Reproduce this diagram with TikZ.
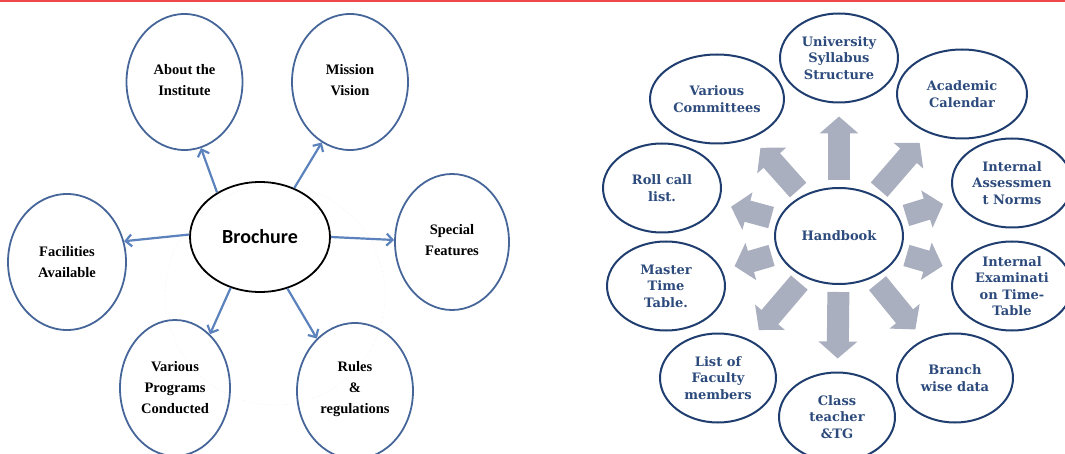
\documentclass[tikz,border=0pt]{standalone}
\usepackage{fontspec}
\setmainfont{Liberation Serif}
\newfontfamily\hbfont{DejaVu Serif}
\newfontfamily\brfont{Carlito}
\usepackage{tikz}
\usetikzlibrary{shapes.geometric, arrows.meta}
\usepackage{xcolor}

\definecolor{topred}{HTML}{F04848}
\definecolor{leftline}{HTML}{46669A}
\definecolor{leftarrow}{HTML}{5B82BC}
\definecolor{navyline}{HTML}{1F3D6E}
\definecolor{navytext}{HTML}{2C4A7C}
\definecolor{blockgray}{HTML}{A9AFBF}

\tikzset{
  bubble/.style={ellipse, draw=leftline, line width=1.8pt, inner sep=0pt,
    minimum width=116pt, minimum height=136pt},
  bubtxt/.style={align=center, font=\fontsize{14.5}{21}\selectfont\bfseries},
  hbub/.style={ellipse, draw=navyline, line width=2pt, inner sep=0pt,
    minimum width=118pt, minimum height=89pt},
  hbtxt/.style={align=center, text=navytext, font=\hbfont\bfseries\fontsize{13}{16.5}\selectfont},
  thinarr/.style={draw=leftarrow, line width=2.2pt, -{Straight Barb[length=6pt,width=12pt]}},
  blockarr/.style={draw=blockgray, line width=22pt, -{Triangle[width=38pt,length=17pt]},
    shorten <=7pt, shorten >=13pt}
}

\begin{document}
\begin{tikzpicture}[x=1pt, y=-1pt]

  \useasboundingbox (0,0) rectangle (1065,454);
  \clip (0,0) rectangle (1065,454);

  % Top rule
  \fill[topred] (0,0) rectangle (1065,2);

  % Brochure: faint guide circle
  \draw[gray!15, dotted, line width=0.6pt] (275,295) circle (110pt);

  % Brochure: centre
  \node[ellipse, draw=black, line width=1.8pt, minimum width=140pt, minimum height=110pt,
        inner sep=0pt, font=\brfont\bfseries\fontsize{20}{24}\selectfont] (bro) at (260,237) {Brochure};

  % Brochure: outer bubbles
  \node[bubble] (about) at (184.5,82) {};
  \node[bubble] (mission) at (350,82) {};
  \node[bubble, minimum width=114pt] (special) at (452,242) {};
  \node[bubble, minimum width=118pt] (facil) at (67,262) {};
  \node[bubble, minimum width=110pt] (prog) at (175,388) {};
  \node[bubble] (rules) at (355,391) {};

  \node[bubtxt] (about-t) at ([yshift=2pt]about.center) {About the\\Institute};
  \node[bubtxt] (mission-t) at ([yshift=2pt]mission.center) {Mission\\Vision};
  \node[bubtxt] (special-t) at ([yshift=2pt]special.center) {Special\\Features};
  \node[bubtxt] (facil-t) at (facil.center) {Facilities\\Available};
  \node[bubtxt] (prog-t) at (prog.center) {Various\\Programs\\Conducted};
  \node[bubtxt] (rules-t) at ([yshift=2pt]rules.center) {Rules\\\&\\regulations};

  % Brochure: arrows
  \draw[thinarr] (bro.134) -- (about.284);
  \draw[thinarr] (bro.55) -- (mission.245);
  \draw[thinarr] (bro.178) -- (facil.20);
  \draw[thinarr] (bro.0) -- (special.178);
  \draw[thinarr] (bro.240) -- (prog.57);
  \draw[thinarr] (bro.298) -- (rules.126);

  % Handbook: centre
  \node[hbub, minimum width=128pt, minimum height=96pt] (hb) at (839,236) {};
  \node[hbtxt] (hb-t) at (hb.center) {Handbook};

  % Handbook: outer bubbles
  \node[hbub] (uni) at (839,58) {};
  \node[hbub, minimum width=134pt] (comm) at (717,99) {};
  \node[hbub, minimum width=130pt] (acad) at (962,94) {};
  \node[hbub] (roll) at (662,188) {};
  \node[hbub, minimum width=120pt] (iassess) at (1012,183) {};
  \node[hbub] (master) at (666,286) {};
  \node[hbub, minimum width=120pt] (iexam) at (1012,286) {};
  \node[hbub, minimum width=116pt] (fac) at (718,378) {};
  \node[hbub, minimum width=116pt] (cls) at (837,417) {};
  \node[hbub, minimum width=116pt] (branch) at (955,378) {};

  \node[hbtxt] (uni-t) at (uni.center) {University\\Syllabus\\Structure};
  \node[hbtxt] (comm-t) at (comm.center) {Various\\Committees};
  \node[hbtxt] (acad-t) at (acad.center) {Academic\\Calendar};
  \node[hbtxt] (roll-t) at (roll.center) {Roll call\\list.};
  \node[hbtxt] (iassess-t) at (iassess.center) {Internal\\Assessmen\\t Norms};
  \node[hbtxt] (master-t) at (master.center) {Master\\Time\\Table.};
  \node[hbtxt] (iexam-t) at (iexam.center) {Internal\\Examinati\\on Time-\\Table};
  \node[hbtxt] (fac-t) at (fac.center) {List of\\Faculty\\members};
  \node[hbtxt] (cls-t) at (cls.center) {Class\\teacher\\\&TG};
  \node[hbtxt] (branch-t) at (branch.center) {Branch\\wise data};

  % Handbook: block arrows
  \foreach \nm in {uni, comm, acad, roll, iassess, master, iexam, fac, cls, branch}{
    \draw[blockarr] (hb) -- (\nm);
  }

\end{tikzpicture}
\end{document}
